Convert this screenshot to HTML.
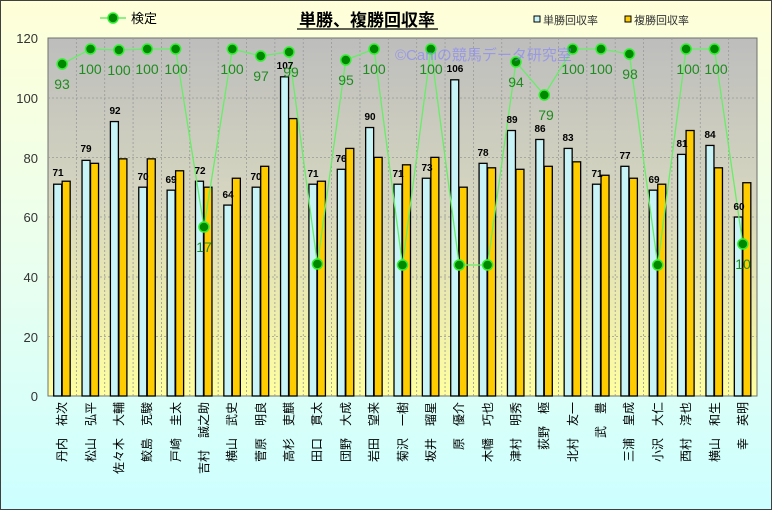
<!DOCTYPE html>
<html><head><meta charset="utf-8"><style>
body{margin:0;}
#c{position:relative;width:770px;height:508px;border:1px solid #404040;background:linear-gradient(#ffffd8,#e8fff0 55%,#ccffff);overflow:hidden;font-family:"Liberation Sans","Noto Sans CJK JP",sans-serif;}
</style></head><body><div id="c">
<svg width="772" height="510" style="position:absolute;left:-1px;top:-1px">
<defs><linearGradient id="pg" x1="0" y1="0" x2="0" y2="1"><stop offset="0" stop-color="#bdbdbd"/><stop offset="0.45" stop-color="#d6d6c0"/><stop offset="1" stop-color="#ffffa0"/></linearGradient></defs>
<rect x="48" y="38" width="709" height="358" fill="url(#pg)" stroke="#707070"/>
<g id="grid" stroke="#999" stroke-dasharray="2,2" stroke-width="0.8"></g>
<g id="bars"></g>
<g font-size="13" fill="#333" text-anchor="end">
<text x="38" y="43">120</text><text x="38" y="103">100</text><text x="38" y="163">80</text><text x="38" y="222">60</text><text x="38" y="282">40</text><text x="38" y="342">20</text><text x="38" y="401">0</text>
</g>
<g id="line"></g>
<g font-size="10" font-weight="bold" fill="#000" text-anchor="middle">
<text x="58" y="176">71</text><text x="86" y="152">79</text><text x="115" y="114">92</text><text x="143" y="180">70</text><text x="171" y="183">69</text><text x="200" y="174">72</text><text x="228" y="198">64</text><text x="256" y="180">70</text><text x="285" y="69">107</text><text x="313" y="177">71</text><text x="341" y="162">76</text><text x="370" y="120">90</text><text x="398" y="177">71</text><text x="427" y="171">73</text><text x="455" y="72">106</text><text x="483" y="156">78</text><text x="512" y="123">89</text><text x="540" y="132">86</text><text x="568" y="141">83</text><text x="597" y="177">71</text><text x="625" y="159">77</text><text x="654" y="183">69</text><text x="682" y="147">81</text><text x="710" y="138">84</text><text x="739" y="210">60</text>
</g>
<text x="395" y="60" font-size="15" fill="#8080ff" opacity="0.6">©Caniの競馬データ研究室</text>
<g font-size="14" fill="#1e8c1e" text-anchor="middle">
<text x="62" y="89">93</text><text x="90" y="74">100</text><text x="119" y="75">100</text><text x="147" y="74">100</text><text x="176" y="74">100</text><text x="204" y="252">17</text><text x="232" y="74">100</text><text x="261" y="81">97</text><text x="291" y="77">99</text><text x="346" y="85">95</text><text x="374" y="74">100</text><text x="431" y="74">100</text><text x="516" y="87">94</text><text x="546" y="120">79</text><text x="573" y="74">100</text><text x="601" y="74">100</text><text x="630" y="79">98</text><text x="688" y="74">100</text><text x="716" y="74">100</text><text x="743" y="269">10</text>
</g>
<line x1="100" y1="18" x2="126" y2="18" stroke="#66ee66" stroke-width="1.5"/><circle cx="113" cy="18" r="5" fill="#008800" stroke="#33ee33" stroke-width="1.5"/>
<text x="131" y="23" font-size="13">検定</text>
<text x="367" y="26" font-size="17" font-weight="bold" text-anchor="middle">単勝、複勝回収率</text>
<line x1="297" y1="29" x2="438" y2="29" stroke="#000" stroke-width="1.2"/>
<rect x="534" y="16" width="6" height="6" fill="#c8f4f8" stroke="#000"/><text x="543" y="24" font-size="11" fill="#333">単勝回収率</text>
<rect x="625" y="16" width="6" height="6" fill="#ffcc00" stroke="#000"/><text x="634" y="24" font-size="11" fill="#333">複勝回収率</text>
<g font-size="12" fill="#000" text-anchor="end">
<text transform="translate(66,402) rotate(-90)">丹内　祐次</text>
<text transform="translate(95,402) rotate(-90)">松山　弘平</text>
<text transform="translate(123,402) rotate(-90)">佐々木　大輔</text>
<text transform="translate(151,402) rotate(-90)">鮫島　克駿</text>
<text transform="translate(180,402) rotate(-90)">戸崎　圭太</text>
<text transform="translate(208,402) rotate(-90)">吉村　誠之助</text>
<text transform="translate(236,402) rotate(-90)">横山　武史</text>
<text transform="translate(265,402) rotate(-90)">菅原　明良</text>
<text transform="translate(293,402) rotate(-90)">高杉　吏麒</text>
<text transform="translate(321,402) rotate(-90)">田口　貫太</text>
<text transform="translate(350,402) rotate(-90)">団野　大成</text>
<text transform="translate(378,402) rotate(-90)">岩田　望来</text>
<text transform="translate(407,402) rotate(-90)">菊沢　一樹</text>
<text transform="translate(435,402) rotate(-90)">坂井　瑠星</text>
<text transform="translate(463,402) rotate(-90)">原　優介</text>
<text transform="translate(492,402) rotate(-90)">木幡　巧也</text>
<text transform="translate(520,402) rotate(-90)">津村　明秀</text>
<text transform="translate(548,402) rotate(-90)">荻野　極</text>
<text transform="translate(577,402) rotate(-90)">北村　友一</text>
<text transform="translate(605,402) rotate(-90)">武　豊</text>
<text transform="translate(633,402) rotate(-90)">三浦　皇成</text>
<text transform="translate(662,402) rotate(-90)">小沢　大仁</text>
<text transform="translate(690,402) rotate(-90)">西村　淳也</text>
<text transform="translate(719,402) rotate(-90)">横山　和生</text>
<text transform="translate(747,402) rotate(-90)">幸　英明</text>
</g>
</svg>
</div>
<script>
var ns="http://www.w3.org/2000/svg";
function el(t,a,p){var e=document.createElementNS(ns,t);for(var k in a)e.setAttribute(k,a[k]);document.getElementById(p).appendChild(e);}
var s=[71,79,92,70,69,72,64,70,107,71,76,90,71,73,106,78,89,86,83,71,77,69,81,84,60];
var d=[72,78,79.5,79.5,75.5,70,73,77,93,72,83,80,77.5,80,70,76.5,76,77,78.5,74,73,71,89,76.5,71.5];
var ly=[64,49,50,49,49,227,49,56,52,264,60,49,265,49,265,265,62,95,49,49,54,265,49,49,244];
var w=709/25;
for(var i=1;i<25;i++){el("line",{x1:48+w*i,y1:38,x2:48+w*i,y2:396},"grid");}
[98,157.5,217,277,336.5].forEach(function(y){el("line",{x1:48,y1:y,x2:757,y2:y},"grid");});
var pts=[];
for(var i=0;i<25;i++){var cx=48+w*(i+0.5);
var y1=396-2.983*s[i],y2=396-2.983*d[i];
el("rect",{x:cx-8.5,y:y1,width:8,height:396-y1,fill:"#c8f4f8",stroke:"#000","stroke-width":1.3},"bars");
el("rect",{x:cx,y:y2,width:8,height:396-y2,fill:"#ffcc00",stroke:"#000","stroke-width":1.3},"bars");
pts.push(cx+","+ly[i]);}
el("polyline",{points:pts.join(" "),fill:"none",stroke:"#66ee66","stroke-width":1.3},"line");
for(var i=0;i<25;i++){var cx=48+w*(i+0.5);el("circle",{cx:cx,cy:ly[i],r:5,fill:"#008800",stroke:"#33ee33","stroke-width":1.5},"line");}
</script>
</body></html>
